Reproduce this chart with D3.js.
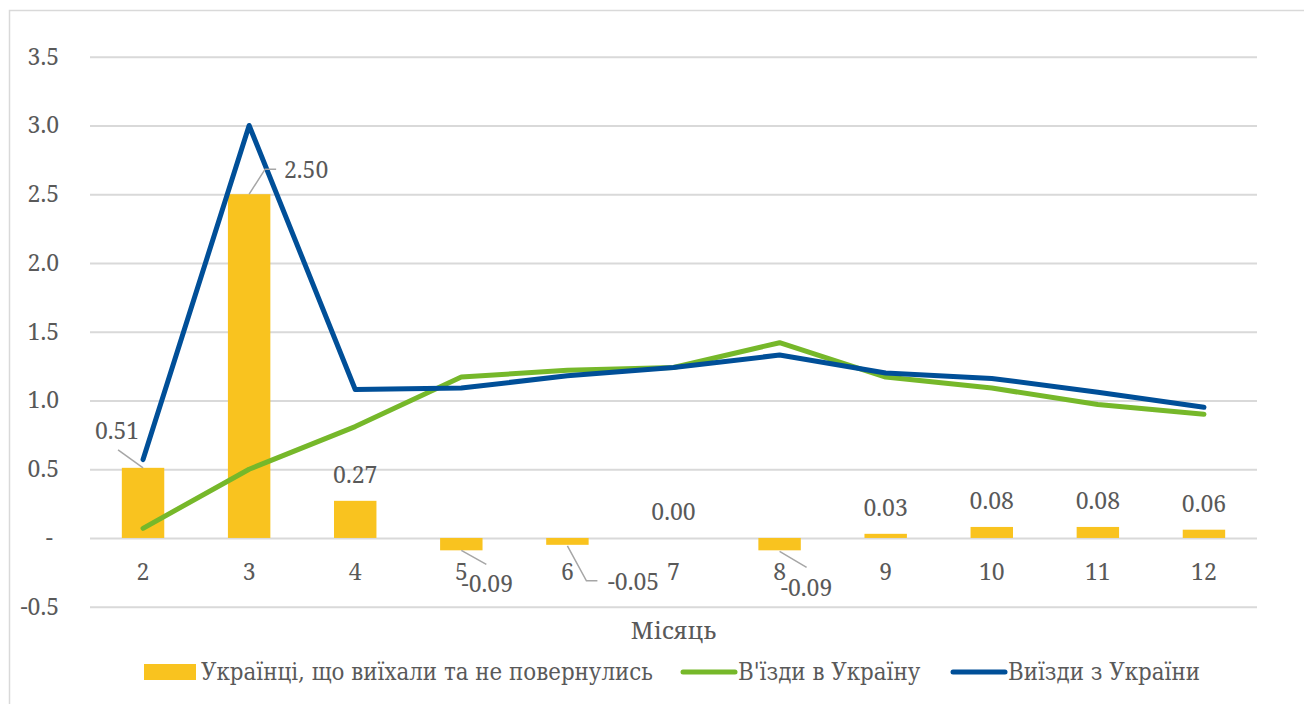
<!DOCTYPE html>
<html lang="uk">
	<head>
		<meta charset="utf-8">
		<title>Місяць chart</title>
		<script src="https://cdnjs.cloudflare.com/ajax/libs/d3/7.8.5/d3.min.js"></script>
		<style type="text/css">
			body { margin: 0; background: #fff; }
		</style>
	</head>

	<body>
		<script type="text/javascript">

		// data
		var months = ["2", "3", "4", "5", "6", "7", "8", "9", "10", "11", "12"];
		var notReturned = [0.51, 2.50, 0.27, -0.09, -0.05, 0.00, -0.09, 0.03, 0.08, 0.08, 0.06];
		var entries = [0.07, 0.50, 0.81, 1.17, 1.22, 1.24, 1.42, 1.17, 1.09, 0.97, 0.90];
		var exits = [0.57, 3.00, 1.08, 1.09, 1.18, 1.24, 1.33, 1.20, 1.16, 1.06, 0.95];
		var yTicks = [-0.5, 0, 0.5, 1.0, 1.5, 2.0, 2.5, 3.0, 3.5];
		var seriesNames = ["Українці, що виїхали та не повернулись", "В'їзди в Україну", "Виїзди з України"];
		var xTitle = "Місяць";

		var colors = ["#f9c31f", "#76b82a", "#004f98"];
		var textColor = "#595959";
		var mainFont = "'Noto Serif'";
		var legendFont = "'DejaVu Serif Condensed'";

		// label placement (offsets from the bar end), null = default above
		var labelLayout = [
			{dx: -26, dy: -29, leader: [[0, 0], [-25, -18]]},
			{dx: 57, dy: -16, leader: [[0, 0], [16, -25], [27, -25]]},
			null,
			{dx: 26, dy: 42, leader: [[0, 0], [25, 14]]},
			{dx: 66, dy: 45, leader: [[0, 1], [19, 36], [30, 36]]},
			null,
			{dx: 27, dy: 46, leader: [[0, 1], [27, 17]]},
			null, null, null, null
		];

		var fmtLabel = function(d) {
			return d3.format(".2f")(d).replace("\u2212", "-");
		};

		var w = 1304;
		var h = 704;
		var left = 90, right = 1257;

		var svg = d3.select("body")
			.append("svg")
			.attr("width", w)
			.attr("height", h);

		// chart border
		svg.append("rect")
			.attr("x", 9.5)
			.attr("y", 10.5)
			.attr("width", 1310)
			.attr("height", 710)
			.attr("fill", "none")
			.attr("stroke", "#d9d9d9")
			.attr("stroke-width", 1.5);

		var xScale = d3.scaleBand()
			.domain(months)
			.range([left, right])
			.paddingInner(0.6)
			.paddingOuter(0.3);

		var xPoint = function(i) {
			return xScale(months[i]) + xScale.bandwidth() / 2;
		};

		var yScale = d3.scaleLinear()
			.domain([-0.5, 3.5])
			.range([606.7, 56.7]);

		// gridlines + y labels
		var yAxis = d3.axisLeft(yScale)
			.tickValues(yTicks)
			.tickSize(-(right - left))
			.tickPadding(31)
			.tickFormat(function(d) {
				return d === 0 ? "-" : d3.format(".1f")(d).replace("\u2212", "-");
			});

		var gy = svg.append("g")
			.attr("transform", "translate(" + left + ",0)")
			.call(yAxis);
		gy.select(".domain").remove();
		gy.selectAll(".tick line")
			.attr("stroke", "#d9d9d9")
			.attr("stroke-width", 2);
		gy.selectAll(".tick text")
			.style("font-family", mainFont)
			.attr("font-size", 23)
			.attr("fill", textColor)
			.attr("dx", function(d) { return d === 0 ? -6 : 0; });

		// bars
		svg.selectAll("rect.bar")
			.data(notReturned)
			.enter()
			.append("rect")
			.attr("class", "bar")
			.attr("x", function(d, i) { return xScale(months[i]); })
			.attr("width", xScale.bandwidth())
			.attr("y", function(d) { return yScale(Math.max(0, d)); })
			.attr("height", function(d) { return Math.abs(yScale(d) - yScale(0)); })
			.attr("fill", colors[0]);

		// x labels
		var xAxis = d3.axisBottom(xScale)
			.tickSize(0)
			.tickPadding(0);
		var gx = svg.append("g")
			.attr("transform", "translate(0," + yScale(0) + ")")
			.call(xAxis);
		gx.select(".domain").remove();
		gx.selectAll(".tick text")
			.style("font-family", mainFont)
			.attr("font-size", 23)
			.attr("fill", textColor)
			.attr("dy", 42);

		// lines
		var line = d3.line()
			.x(function(d, i) { return xPoint(i); })
			.y(function(d) { return yScale(d); });

		[entries, exits].forEach(function(series, k) {
			svg.append("path")
				.datum(series)
				.attr("d", line)
				.attr("fill", "none")
				.attr("stroke", colors[k + 1])
				.attr("stroke-width", 5)
				.attr("stroke-linecap", "round")
				.attr("stroke-linejoin", "round");
		});

		// data labels + leader lines
		notReturned.forEach(function(d, i) {
			var px = xPoint(i);
			var py = yScale(d);
			var lay = labelLayout[i];
			var tx = px, ty = py - 18;
			if (lay) {
				tx = px + lay.dx;
				ty = py + lay.dy;
				svg.append("polyline")
					.attr("points", lay.leader.map(function(p) {
						return (px + p[0]) + "," + (py + p[1]);
					}).join(" "))
					.attr("fill", "none")
					.attr("stroke", "#a6a6a6")
					.attr("stroke-width", 1.5);
			}
			svg.append("text")
				.attr("x", tx)
				.attr("y", ty)
				.attr("text-anchor", "middle")
				.style("font-family", mainFont)
				.attr("font-size", 23)
				.attr("fill", textColor)
				.text(fmtLabel(d));
		});

		// x title
		svg.append("text")
			.attr("x", (left + right) / 2)
			.attr("y", 639)
			.attr("text-anchor", "middle")
			.style("font-family", mainFont)
			.attr("font-size", 24)
			.attr("fill", textColor)
			.text(xTitle);

		// legend
		var legendX = [144, 681, 951];
		seriesNames.forEach(function(name, k) {
			var g = svg.append("g")
				.attr("transform", "translate(" + legendX[k] + ",672)");
			if (k === 0) {
				g.append("rect")
					.attr("x", 0).attr("y", -8)
					.attr("width", 52).attr("height", 16)
					.attr("fill", colors[0]);
			} else {
				g.append("line")
					.attr("x1", 2).attr("x2", 54)
					.attr("y1", 0).attr("y2", 0)
					.attr("stroke", colors[k])
					.attr("stroke-width", 5)
					.attr("stroke-linecap", "round");
			}
			g.append("text")
				.attr("x", 57)
				.attr("y", 8)
				.style("font-family", legendFont)
				.attr("font-size", 23.8)
				.attr("fill", textColor)
				.text(name);
		});

		</script>
	</body>
</html>
